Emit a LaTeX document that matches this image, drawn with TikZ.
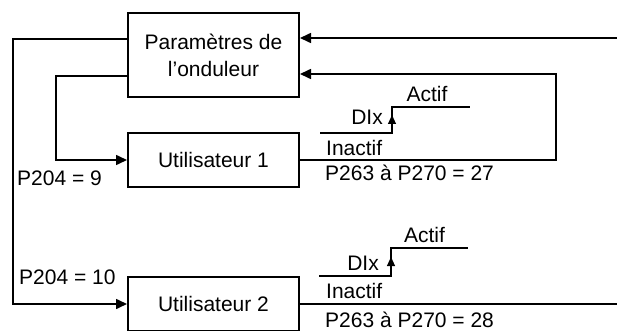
\documentclass[tikz,border=0pt]{standalone}
\usepackage{fontspec}
\setmainfont{Liberation Sans}
\usetikzlibrary{arrows.meta}
\begin{document}
\begin{tikzpicture}[x=1pt,y=-1pt,
  box/.style={draw,line width=2pt,minimum width=171pt,align=center,inner sep=0pt},
  conn/.style={line width=1.6pt},
  arr/.style={conn,-{Triangle[length=11pt,width=10pt]}},
  lbl/.style={inner sep=0pt,font=\fontsize{21}{26}\selectfont}]
\useasboundingbox (0,0) rectangle (617,331);
\node[box,minimum height=84pt,font=\fontsize{21}{27}\selectfont] (inv) at (213.5,55) {Paramètres de\\l’onduleur};
\node[box,minimum height=54pt,font=\fontsize{21}{24}\selectfont] (u1) at (213.5,160) {Utilisateur 1};
\node[box,minimum height=54pt,font=\fontsize{21}{24}\selectfont] (u2) at (213.5,304) {Utilisateur 2};
% left connectors
\coordinate (l1) at (13,39);
\coordinate (l2) at (56,76);
\draw[arr] ([yshift=16pt]inv.west) -- (l1) |- (u2.west);
\draw[arr] ([yshift=-21pt]inv.west) -- (l2) |- (u1.west);
% right connectors
\coordinate (r0) at (617,38);
\coordinate (r1) at (556,74);
\coordinate (r2) at (617,304);
\draw[arr] (r0) -- ([yshift=17pt]inv.east);
\draw[arr] (u1.east) -| (r1) -- ([yshift=-19pt]inv.east);
\draw[conn] (u2.east) -- (r2);
% step signal 1
\draw[conn] (320,133) -- (392,133) -- (392,107) -- (470,107);
\draw[-{Triangle[length=9pt,width=8pt]},line width=1pt] (392,130) -- (392,115);
\node[lbl,anchor=base east] (dix1) at (383,125) {DIx};
\node[lbl,anchor=base] (act1) at (427,102) {Actif};
\node[lbl,anchor=base west] (ina1) at (326,155) {Inactif};
\node[lbl,anchor=base west] (p1) at (325,180) {P263 à P270 = 27};
% step signal 2
\draw[conn] (319,276) -- (391,276) -- (391,248) -- (468,248);
\draw[-{Triangle[length=9pt,width=8pt]},line width=1pt] (391,273) -- (391,257);
\node[lbl,anchor=base east] (dix2) at (379,270) {DIx};
\node[lbl,anchor=base] (act2) at (424.5,242) {Actif};
\node[lbl,anchor=base west] (ina2) at (326,298) {Inactif};
\node[lbl,anchor=base west] (p2) at (325,327) {P263 à P270 = 28};
% parameters
\node[lbl,anchor=base west] (p204a) at (17,185) {P204 = 9};
\node[lbl,anchor=base west] (p204b) at (19,284) {P204 = 10};
\end{tikzpicture}
\end{document}
